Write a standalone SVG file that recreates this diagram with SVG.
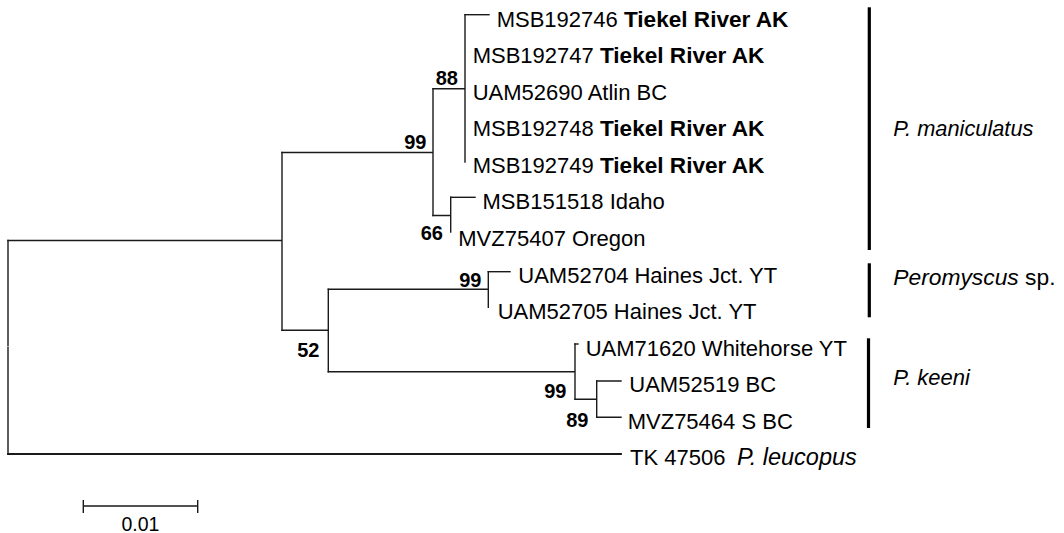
<svg xmlns="http://www.w3.org/2000/svg" width="1064" height="533" viewBox="0 0 1064 533">
<style>
.br{fill:none;stroke:#1a1a1a;stroke-width:1.4;stroke-linecap:square}
.bar{stroke:#000;stroke-width:3.2}
.t{font-family:"Liberation Sans",Arial,sans-serif;font-size:22px;fill:#000}
.b{font-weight:bold;font-size:22.6px}
.i{font-style:italic}
.bs{font-family:"Liberation Sans",Arial,sans-serif;font-size:20px;font-weight:bold;fill:#000}
</style>
<rect width="1064" height="533" fill="#fff"/>
<g id="connectors">
<path class="br" d="M8,240.5 V345.5 M8,347.5 V454"/>
<path class="br" d="M8,240.5 H282 M282,152.5 V330.3"/>
<path class="br" d="M282,152.5 H433 M433,88.7 V215.5"/>
<path class="br" d="M433,88.7 H465 M465,14.7 V162"/>
<path class="br" d="M465,14.7 H489"/>
<path class="br" d="M433,215.5 H450.7 M450.7,197.3 V232"/>
<path class="br" d="M450.7,197.3 H475"/>
<path class="br" d="M282,330.3 H328.3 M328.3,289.3 V371.7"/>
<path class="br" d="M328.3,289.3 H488.3 M488.3,271.7 V307.3"/>
<path class="br" d="M488.3,271.7 H510"/>
<path class="br" d="M328.3,371.7 H575 M575,344 V399.3"/>
<path class="br" d="M575,344 H578"/>
<path class="br" d="M575,399.3 H596.7 M596.7,381 V417.3"/>
<path class="br" d="M596.7,381 H621 M596.7,417.3 H621"/>
<path class="br" style="stroke-width:1.8" d="M8,454 H621"/>
</g>
<g id="leaves">
<g id="n1"><text class="t" x="496.7" y="26.7">MSB192746 <tspan class="b">Tiekel River AK</tspan></text></g>
<g id="n2"><text class="t" x="472.7" y="63.2">MSB192747 <tspan class="b">Tiekel River AK</tspan></text></g>
<g id="n3"><text class="t" x="472.7" y="99.7">UAM52690 Atlin BC</text></g>
<g id="n4"><text class="t" x="472.7" y="136.2">MSB192748 <tspan class="b">Tiekel River AK</tspan></text></g>
<g id="n5"><text class="t" x="472.7" y="172.7">MSB192749 <tspan class="b">Tiekel River AK</tspan></text></g>
<g id="n6"><text class="t" x="482.5" y="209.2">MSB151518 Idaho</text></g>
<g id="n7"><text class="t" x="458.3" y="245.7">MVZ75407 Oregon</text></g>
<g id="n8"><text class="t" x="518.3" y="282.5">UAM52704 Haines Jct. YT</text></g>
<g id="n9"><text class="t" x="497.7" y="319">UAM52705 Haines Jct. YT</text></g>
<g id="n10"><text class="t" x="585.7" y="355.5">UAM71620 Whitehorse YT</text></g>
<g id="n11"><text class="t" x="629.3" y="392">UAM52519 BC</text></g>
<g id="n12"><text class="t" x="627.7" y="428.5">MVZ75464 S BC</text></g>
<g id="n13"><text class="t" x="630" y="465">TK 47506</text><text class="t i" x="737" y="465" style="font-size:23.5px">P. leucopus</text></g>
</g>
<g id="bootstrap">
<text class="bs" x="458" y="85" text-anchor="end">88</text>
<text class="bs" x="426.5" y="149" text-anchor="end">99</text>
<text class="bs" x="443" y="240" text-anchor="end">66</text>
<text class="bs" x="481.5" y="286.5" text-anchor="end">99</text>
<text class="bs" x="319.5" y="356.5" text-anchor="end">52</text>
<text class="bs" x="566.5" y="397.5" text-anchor="end">99</text>
<text class="bs" x="588.5" y="426.5" text-anchor="end">89</text>
</g>
<g id="clades">
<g id="c1"><line class="bar" x1="869.3" y1="7.3" x2="869.3" y2="250"/><text class="t i" x="893.3" y="135.5" style="font-size:21.8px">P. maniculatus</text></g>
<g id="c2"><line class="bar" x1="869.3" y1="263.3" x2="869.3" y2="317.3"/><text class="t" x="893.3" y="285" style="font-size:22.8px"><tspan class="i">Peromyscus</tspan> sp.</text></g>
<g id="c3"><line class="bar" x1="868.5" y1="338.3" x2="868.5" y2="428"/><text class="t i" x="893.3" y="385">P. keeni</text></g>
</g>
<g id="scale">
<path class="br" d="M83.3,506 H197.7 M83.3,500.7 V512.3 M197.7,500.7 V512.3"/>
<text class="t" x="140.5" y="530.5" text-anchor="middle" style="font-size:19.5px">0.01</text>
</g>
</svg>
